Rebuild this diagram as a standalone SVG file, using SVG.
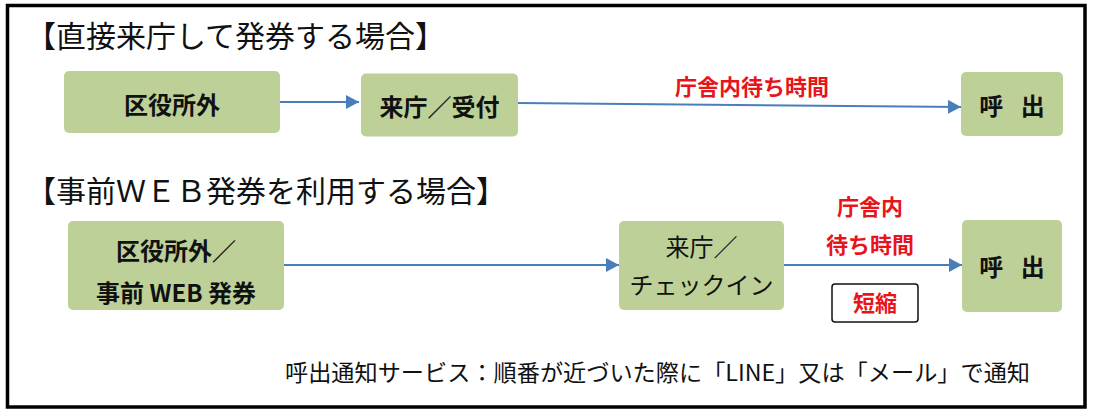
<svg xmlns="http://www.w3.org/2000/svg" width="1093" height="414" viewBox="0 0 1093 414">
<style>
text{font-family:"Noto Sans CJK JP","Noto Sans",sans-serif;fill:#111}
.title{font-size:30px;font-weight:normal}
.node rect{fill:#bdd097}
.nt{font-size:24px;font-weight:bold;text-anchor:middle}
.nr{font-size:24px;font-weight:normal;text-anchor:middle}
.lbl{font-size:22px;font-weight:bold;fill:#e8141b;text-anchor:middle}
.conn line{stroke:#4a7ebb;stroke-width:2;fill:none}
.foot{font-size:23px}
</style>
<defs>
<marker id="ah" markerUnits="userSpaceOnUse" markerWidth="14" markerHeight="14" refX="13" refY="7" orient="auto">
<path d="M0,0 L13,7 L0,14 z" fill="#4a7ebb"/>
</marker>
</defs>
<rect x="7.5" y="5.5" width="1077.5" height="401.5" fill="#fff" stroke="#000" stroke-width="3.5"/>
<text class="title" x="26" y="47">【直接来庁して発券する場合】</text>
<text class="title" x="26" y="202">【事前ＷＥＢ発券を利用する場合】</text>

<g class="conn">
<line x1="280" y1="102" x2="359" y2="102" marker-end="url(#ah)"/>
<line x1="518" y1="103" x2="961" y2="107" marker-end="url(#ah)"/>
<line x1="284" y1="265" x2="619" y2="265" marker-end="url(#ah)"/>
<line x1="784" y1="265" x2="962" y2="265" marker-end="url(#ah)"/>
</g>

<g id="a1" class="node"><rect x="64" y="71" width="216" height="62" rx="5"/><text class="nt" x="172" y="114">区役所外</text></g>
<g id="a2" class="node"><rect x="361" y="73.5" width="157" height="63" rx="5"/><text class="nt" x="439.5" y="116">来庁／受付</text></g>
<g id="a3" class="node"><rect x="961" y="72" width="102" height="64" rx="5"/><text class="nt" x="1012" y="115" xml:space="preserve" word-spacing="12">呼 出</text></g>

<g id="b1" class="node"><rect x="68" y="221" width="216" height="89" rx="5"/><text class="nt" x="176" y="260">区役所外／</text><text class="nt" x="176" y="302">事前 WEB 発券</text></g>
<g id="b2" class="node"><rect x="619" y="221" width="165" height="89" rx="5"/><text class="nr" x="701.5" y="256">来庁／</text><text class="nr" x="701.5" y="294">チェックイン</text></g>
<g id="b3" class="node"><rect x="962" y="220" width="100" height="92" rx="5"/><text class="nt" x="1012" y="276" xml:space="preserve" word-spacing="12">呼 出</text></g>

<text class="lbl" x="752" y="95">庁舎内待ち時間</text>
<text class="lbl" x="870" y="215">庁舎内</text>
<text class="lbl" x="870" y="253">待ち時間</text>
<g id="short"><rect x="832" y="284" width="86" height="38" rx="3" fill="#fff" stroke="#111" stroke-width="1.5"/><text class="lbl" x="875" y="311">短縮</text></g>

<text class="foot" x="285" y="381" textLength="745" lengthAdjust="spacingAndGlyphs">呼出通知サービス：順番が近づいた際に「LINE」又は「メール」で通知</text>
</svg>
